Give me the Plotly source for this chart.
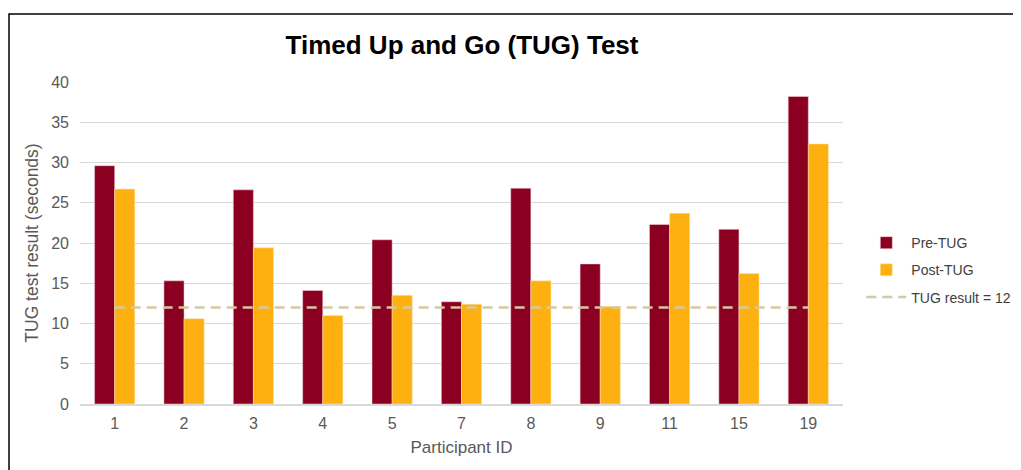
import plotly.graph_objects as go

participants = ["1", "2", "3", "4", "5", "7", "8", "9", "11", "15", "19"]
pre_tug = [29.6, 15.3, 26.6, 14.1, 20.4, 12.7, 26.8, 17.4, 22.3, 21.7, 38.2]
post_tug = [26.7, 10.6, 19.4, 11.0, 13.5, 12.4, 15.3, 12.1, 23.7, 16.2, 32.3]
threshold = [12] * len(participants)
y_ticks = [0, 5, 10, 15, 20, 25, 30, 35, 40]

W, H = 1013, 462
L, T, PW, PH = 72, 74, 763, 322

fig = go.Figure()
fig.add_trace(go.Bar(x=participants, y=pre_tug, name="Pre-TUG", legendgroup="a",
                     marker=dict(color="#8B0020", line=dict(color="#f4d6dc", width=0.5))))
fig.add_trace(go.Bar(x=participants, y=post_tug, name="Post-TUG", legendgroup="b",
                     marker=dict(color="#FFB011", line=dict(color="#ffe6b0", width=0.5))))
fig.add_trace(go.Scatter(x=participants, y=threshold, name="TUG result = 12", mode="lines", legendgroup="c",
                         line=dict(color="#D3C9A3", width=2.5, dash="10px,6px")))

fig.update_layout(
    width=W, height=H,
    paper_bgcolor="white", plot_bgcolor="white",
    margin=dict(l=L, r=W - L - PW, t=T, b=H - T - PH, autoexpand=False),
    font=dict(family="Liberation Sans, Arial, sans-serif", color="#595959", size=14),
    title=dict(text="<b>Timed Up and Go (TUG) Test</b>", x=(462 - 8) / W, xanchor="center",
               y=1 - (45 - 8) / H, yanchor="middle",
               font=dict(size=26, color="#000000", family="Liberation Sans, Arial")),
    barmode="group", bargap=0.42, bargroupgap=0.0,
    legend=dict(x=1.024, xanchor="left", y=0.416, yanchor="middle",
                font=dict(size=14, color="#404040"), itemwidth=40, tracegroupgap=6),
    xaxis=dict(type="category", title=dict(text="Participant ID", font=dict(size=17, color="#595959"), standoff=10),
               showline=True, linecolor="#D9D9D9", linewidth=1.5, ticks="", tickfont=dict(size=16),
               ticklabelstandoff=4),
    yaxis=dict(range=[0, 40], tickvals=y_ticks, showgrid=True, gridcolor="#D9D9D9", gridwidth=1,
               zeroline=False, title=dict(text="TUG test result (seconds)", font=dict(size=17.5, color="#595959"), standoff=8),
               tickfont=dict(size=16), ticklabelstandoff=10),
)

fig.add_shape(type="rect", xref="paper", yref="paper",
              x0=-(L - 1) / PW, x1=(W - L + 20) / PW, y0=-(H - T - PH + 20) / PH, y1=(PH + T - 6) / PH,
              line=dict(color="#000000", width=1.5), fillcolor="rgba(0,0,0,0)", layer="below")

fig.write_html("out.html")
